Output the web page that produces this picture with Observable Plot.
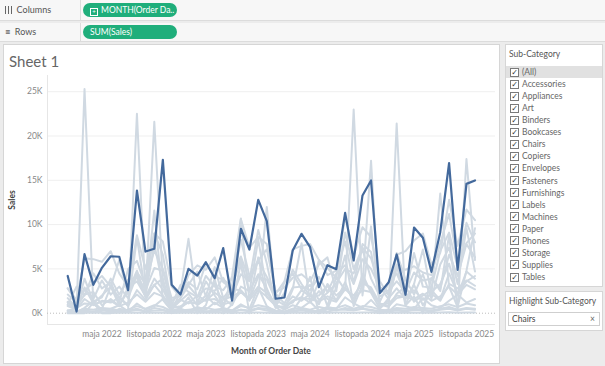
<!DOCTYPE html>
<html><head><meta charset="utf-8">
<script src="https://cdn.jsdelivr.net/npm/d3@7"></script>
<script src="https://cdn.jsdelivr.net/npm/@observablehq/plot@0.6"></script>
<style>
body{margin:0;width:605px;height:366px;overflow:hidden;background:#ececec;font-family:Lato,"Open Sans",sans-serif;position:relative;color:#555}
.abs{position:absolute}
.shelf{position:absolute;left:0;width:605px;background:#f7f7f7;border-bottom:1px solid #dcdcdc}
.shelf .lab{position:absolute;left:5px;font-size:9px;color:#555}
.shelf .div{position:absolute;left:80px;top:0;bottom:0;width:1px;background:#dcdcdc}
.pill{position:absolute;left:83px;width:94px;height:14px;border-radius:7px;background:#1fae7b;color:#fff;font-size:8.5px;line-height:14px;padding-left:7px;box-sizing:border-box;white-space:nowrap;overflow:hidden}
.pane{position:absolute;background:#fff;border:1px solid #d6d6d6;box-sizing:border-box}
.item{position:absolute;left:0;width:96px;height:12px;font-size:8.5px;line-height:12px;color:#666}
.cb{position:absolute;left:4px;top:1.5px;width:9px;height:9px;border:1px solid #7a7a7a;box-sizing:border-box;background:#fff;font-size:8px;line-height:8px;text-align:center;color:#333;font-family:"DejaVu Sans"}
.item span.t{position:absolute;left:16px}
.bars{display:inline-block;width:7px;height:8px;vertical-align:-1px;background:linear-gradient(90deg,#666 0 1px,transparent 1px 3px,#666 3px 4px,transparent 4px 6px,#666 6px 7px)}
</style></head><body>
<div id="root"></div>
<script>
const months = d3.utcMonths(new Date(Date.UTC(2022,0,1)), new Date(Date.UTC(2026,0,1)));
const subCategories = ["Accessories","Appliances","Art","Binders","Bookcases","Chairs","Copiers","Envelopes","Fasteners","Furnishings","Labels","Machines","Paper","Phones","Storage","Supplies","Tables"];
const highlighted = "Chairs";
const tickDates = [new Date(Date.UTC(2022,4,1)),new Date(Date.UTC(2022,10,1)),new Date(Date.UTC(2023,4,1)),new Date(Date.UTC(2023,10,1)),new Date(Date.UTC(2024,4,1)),new Date(Date.UTC(2024,10,1)),new Date(Date.UTC(2025,4,1)),new Date(Date.UTC(2025,10,1))];
const tickLabels = ["maja 2022","listopada 2022","maja 2023","listopada 2023","maja 2024","listopada 2024","maja 2025","listopada 2025"];
const yTicks = [0,5000,10000,15000,20000,25000];
const yTickLabels = ["0K","5K","10K","15K","20K","25K"];

// Monthly sales (thousands), Jan 2022 .. Dec 2025
const Chairs = [4.2,0.19,6.66,3.2,5.12,6.43,6.37,2.6,13.85,6.96,7.27,17.31,3.2,2.11,5.01,4.25,5.76,3.95,7.34,1.43,9.53,7.19,12.8,10.4,1.63,1.77,7.08,8.96,7.45,2.94,5.42,4.97,11.33,5.95,13.29,14.98,2.26,3.5,6.63,2.08,9.67,8.51,4.67,9.14,16.93,4.9,14.6,14.98];
const Machines = [1.2,0.4,25.3,1.0,0.5,3.0,1.8,0.9,8.5,2.2,11.6,1.5,0.3,2.4,8.4,1.1,3.6,2.0,0.6,4.2,10.7,1.4,6.3,1.8,0.9,0.5,2.7,7.9,1.3,3.5,0.8,4.1,2.6,23.0,2.0,9.8,0.6,1.4,5.5,0.9,3.3,7.2,2.1,13.5,3.0,0.7,4.8,9.6];
const Copiers = [0,0,0,1.2,0,0,0.5,0.3,22.5,2.0,21.6,3.5,0,0.6,1.8,0,0.9,3.9,0,1.0,5.6,0,2.3,12.0,0.7,0,0.3,1.7,4.1,0,0.5,2.9,6.5,0.8,3.2,17.2,0,0.5,21.4,0.9,1.9,0,4.0,2.5,8.8,0.3,17.4,6.0];
const Phones = [2.8,1.5,6.2,6.1,5.8,7.0,4.5,3.0,8.8,5.0,9.0,8.1,3.0,1.8,4.3,5.4,4.9,6.3,3.5,2.8,10.6,7.4,8.6,7.8,2.2,3.6,7.2,7.6,7.8,6.0,5.1,4.0,11.0,6.5,9.7,8.6,3.6,2.0,6.6,7.0,8.2,9.0,5.5,6.8,12.8,7.6,11.7,10.5];
const Tables = [1.0,3.0,2.0,4.5,2.8,3.5,1.2,5.0,5.9,3.1,9.0,6.6,0.9,3.2,2.4,1.8,4.2,3.0,2.6,4.0,6.4,3.7,9.4,5.6,0.8,2.3,4.9,3.3,1.9,6.0,4.3,4.8,8.1,3.4,7.8,6.9,1.3,3.4,4.5,2.1,6.8,3.0,2.9,7.0,9.1,5.2,10.2,8.0];
const Storage = [2.8,1.3,2.6,3.4,4.2,3.0,6.0,2.1,4.6,3.3,7.1,5.0,1.7,2.0,3.5,2.7,5.6,4.1,3.8,3.0,8.3,4.2,6.0,7.2,2.4,2.9,4.0,4.4,3.6,5.5,6.3,2.5,9.1,5.0,7.4,6.2,2.9,1.6,5.1,4.9,5.3,4.6,4.3,7.9,11.2,5.8,7.9,9.0];
const Binders = [1.7,0.6,3.9,1.3,1.8,3.9,2.1,3.8,4.0,1.9,7.8,3.1,1.4,2.1,3.2,4.7,1.9,5.2,1.7,3.0,6.1,2.4,8.3,2.6,0.9,3.5,4.5,2.7,3.2,1.5,2.3,3.4,5.0,4.5,7.2,3.9,1.9,2.4,6.8,3.8,2.1,4.4,1.6,5.5,7.4,3.3,9.6,4.7];
const Accessories = [2.1,1.2,2.8,1.6,3.7,2.1,3.0,1.7,4.3,2.6,5.1,4.8,0.8,1.7,3.1,1.9,2.8,2.5,4.0,1.9,4.4,3.6,5.9,4.1,2.2,1.1,2.9,3.0,2.6,4.1,2.4,4.5,5.4,3.3,6.1,5.0,2.9,2.5,3.6,2.4,4.6,3.7,3.9,2.8,6.6,4.2,7.8,6.3];
const Bookcases = [0.8,0.4,2.9,1.1,2.0,3.0,0.9,2.5,4.8,1.8,3.9,2.7,0.6,1.4,2.2,0.9,1.6,3.4,1.0,2.7,2.6,1.5,4.1,3.8,1.5,0.9,1.2,2.6,1.9,2.0,3.1,1.4,3.5,1.1,4.4,2.3,0.5,1.7,2.8,1.6,3.2,0.9,2.4,3.3,5.6,2.0,4.7,3.9];
const Appliances = [1.3,0.7,2.1,2.4,0.9,1.6,0.8,2.9,3.6,1.9,3.2,3.9,0.4,1.5,1.1,2.0,1.4,2.3,1.7,0.9,3.0,2.5,4.4,2.8,0.6,0.8,1.9,1.4,2.2,1.0,3.3,2.0,2.9,1.6,3.8,2.6,1.0,0.7,2.2,3.0,1.3,2.0,2.6,1.5,4.5,2.2,3.6,4.2];
const Furnishings = [0.3,0.5,1.6,0.9,1.4,1.2,1.8,0.8,2.6,1.5,3.2,2.0,0.7,0.6,1.3,1.1,2.0,1.0,1.5,1.9,2.4,1.7,3.0,2.3,0.9,0.5,1.4,1.8,1.2,2.5,1.6,1.3,2.7,2.0,3.4,2.9,1.1,0.8,1.7,1.9,2.6,1.5,2.2,1.4,3.3,2.8,3.7,3.1];
const Paper = [0.9,0.6,1.1,1.0,1.3,1.4,0.8,1.2,2.1,1.3,2.3,1.9,0.6,0.8,1.2,1.1,1.5,1.6,1.0,1.3,2.4,1.5,2.6,1.9,0.8,0.7,1.4,1.7,1.6,1.3,1.9,1.5,2.8,1.7,2.6,2.4,1.0,1.1,2.0,1.8,1.6,2.2,1.4,1.9,3.0,2.1,3.2,2.7];
const Supplies = [0.2,0.1,0.6,1.4,0.3,0.5,0.9,0.2,1.1,0.4,0.8,1.6,0.3,0.5,0.2,0.7,0.4,1.2,0.6,0.3,1.0,0.5,2.9,0.8,0.1,0.4,0.9,0.6,1.3,0.3,0.7,0.5,1.8,1.1,0.6,1.5,0.4,0.2,1.0,0.8,0.5,1.7,0.9,0.6,1.4,2.1,1.2,1.6];
const Art = [0.3,0.2,0.5,0.4,0.6,0.5,0.3,0.4,0.8,0.5,0.9,0.7,0.2,0.3,0.4,0.5,0.6,0.4,0.5,0.3,0.8,0.6,0.9,0.7,0.3,0.2,0.5,0.6,0.4,0.7,0.5,0.6,0.9,0.5,0.8,0.7,0.4,0.3,0.6,0.5,0.7,0.6,0.5,0.8,1.0,0.7,1.1,0.9];
const Envelopes = [0.1,0.2,0.3,0.2,0.4,0.3,0.2,0.3,0.5,0.2,0.6,0.4,0.1,0.2,0.3,0.4,0.2,0.3,0.5,0.2,0.4,0.3,0.6,0.5,0.2,0.1,0.3,0.4,0.3,0.2,0.5,0.3,0.6,0.4,0.5,0.4,0.2,0.3,0.4,0.3,0.5,0.4,0.3,0.5,0.7,0.4,0.6,0.5];
const Labels = [0.05,0.1,0.2,0.1,0.3,0.2,0.1,0.2,0.4,0.2,0.3,0.3,0.1,0.1,0.2,0.3,0.2,0.2,0.3,0.1,0.4,0.2,0.5,0.3,0.1,0.1,0.2,0.3,0.2,0.3,0.2,0.4,0.4,0.3,0.5,0.3,0.2,0.2,0.3,0.2,0.4,0.3,0.2,0.4,0.5,0.3,0.5,0.4];
const Fasteners = [0.02,0.03,0.05,0.04,0.06,0.03,0.05,0.04,0.08,0.05,0.07,0.06,0.02,0.04,0.05,0.06,0.04,0.05,0.07,0.03,0.08,0.05,0.09,0.06,0.03,0.02,0.05,0.06,0.04,0.05,0.06,0.07,0.09,0.05,0.08,0.07,0.03,0.04,0.06,0.05,0.07,0.06,0.05,0.07,0.1,0.06,0.09,0.08];

const seriesBySub = {Accessories,Appliances,Art,Binders,Bookcases,Chairs,Copiers,Envelopes,Fasteners,Furnishings,Labels,Machines,Paper,Phones,Storage,Supplies,Tables};
const rows = [];
for (const s of subCategories) seriesBySub[s].forEach((v,i)=>rows.push({sub:s, date:months[i], sales:v*1000}));
const others = rows.filter(r=>r.sub!==highlighted);
const hi = rows.filter(r=>r.sub===highlighted);
const labelMap = new Map(tickDates.map((d,i)=>[+d, tickLabels[i]]));
const yLabelMap = new Map(yTicks.map((d,i)=>[d, yTickLabels[i]]));
const xDomain = [new Date(Date.UTC(2021,9,22)), new Date(Date.UTC(2026,1,11))];
const yDomain = [-1275, 26830];

const root = document.getElementById("root");
function el(tag, cls, style, html){const e=document.createElement(tag); if(cls) e.className=cls; if(style) e.style.cssText=style; if(html!==undefined) e.innerHTML=html; root.appendChild(e); return e;}

// shelves
el("div","shelf","top:0;height:20px",'<div class="lab" style="top:4px"><span class="bars"></span>&nbsp;&nbsp;Columns</div><div class="div"></div><div class="pill" style="top:3px"><span style="display:inline-block;width:6px;height:6px;border:1px solid #fff;margin-right:3px;vertical-align:-1px;font-size:6px;line-height:6px;text-align:center">+</span>MONTH(Order Da..</div>');
el("div","shelf","top:23px;height:18px",'<div class="lab" style="top:3px"><span style="font-weight:bold;color:#666">&#8801;</span>&nbsp;&nbsp;Rows</div><div class="div"></div><div class="pill" style="top:2px">SUM(Sales)</div>');

// main pane
el("div","pane","left:3px;top:44px;width:497px;height:320px");
el("div","abs","left:9px;top:52px;font-size:15px;color:#666","Sheet 1");
el("div","abs","left:12px;top:200px;font-size:8.5px;font-weight:bold;color:#444;transform:translate(-50%,-50%) rotate(-90deg)","Sales");
el("div","abs","left:271px;top:351px;font-size:8.5px;font-weight:bold;color:#444;transform:translate(-50%,-50%);white-space:nowrap","Month of Order Date");

const chart = Plot.plot({
  width: 497, height: 293,
  marginLeft: 44, marginRight: 5, marginTop: 5, marginBottom: 39,
  style: {fontFamily: "Lato, sans-serif", fontSize: "8.5px", color: "#888", background: "transparent", overflow: "visible"},
  x: {type: "utc", domain: xDomain},
  y: {domain: yDomain},
  marks: [
    Plot.gridY(yTicks.filter(d=>d!==0), {stroke: "#efefef", strokeOpacity: 1}),
    Plot.ruleX([xDomain[0]], {stroke: "#e6e6e6"}),
    Plot.ruleY([yDomain[0]], {stroke: "#e6e6e6"}),
    Plot.ruleY([0], {stroke: "#bdbdbd", strokeDasharray: "1,2"}),
    Plot.lineY(others, {x: "date", y: "sales", z: "sub", stroke: "#d0d9e2", strokeWidth: 2}),
    Plot.lineY(hi, {x: "date", y: "sales", stroke: "#43699c", strokeWidth: 2.2}),
    Plot.axisX(tickDates, {tickSize: 0, tickPadding: 6, tickFormat: d=>labelMap.get(+d), label: null, fill: "#888"}),
    Plot.axisY(yTicks, {tickSize: 0, tickPadding: 5, tickFormat: d=>yLabelMap.get(d), label: null, fill: "#888"})
  ]
});
chart.style.position = "absolute";
chart.style.left = "3px";
chart.style.top = "70px";
root.appendChild(chart);

// filter panel
el("div","pane","left:505px;top:44px;width:98px;height:243px");
el("div","abs","left:509px;top:49px;font-size:8.5px;color:#555","Sub-Category");
const items = ["(All)", ...subCategories];
items.forEach((name,i)=>{
  const top = 66 + i*12.06;
  el("div","item",`left:506px;top:${top}px;${i===0?"background:#e1e1e1;":""}`,`<div class="cb">&#10003;</div><span class="t">${name}</span>`);
});
el("div","pane","left:505px;top:291px;width:98px;height:40px");
el("div","abs","left:509px;top:296px;font-size:8.5px;color:#555;white-space:nowrap","Highlight Sub-Category");
el("div","abs","left:508px;top:312px;width:92px;height:14px;border:1px solid #cfcfcf;box-sizing:border-box;background:#fff;font-size:8.5px;line-height:12px;color:#444",'<span style="position:absolute;left:3px">Chairs</span><span style="position:absolute;right:4px;color:#666">&#215;</span>');
</script>
</body></html>
